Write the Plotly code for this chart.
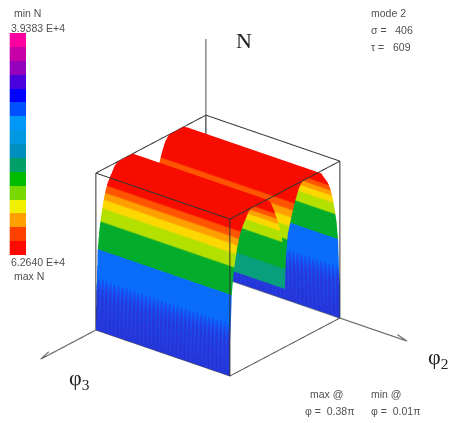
import plotly.graph_objects as go

# Value readings: arch profile across phi3 (fraction of the box), normalised N height
phi3_values = [0.00,0.004,0.010,0.0165,0.017,0.030,0.045,0.064,0.085,0.105,0.125,0.145,0.170,0.200,0.250,0.300,0.336,0.370,0.405,0.440,0.473,0.490,0.500,
               0.510,0.527,0.560,0.595,0.630,0.664,0.700,0.750,0.800,0.830,0.855,0.875,0.895,0.915,0.936,0.955,0.970,0.983,0.9835,0.990,0.996,1.00]
height_values = [0.00,0.20,0.36,0.505,0.51,0.62,0.70,0.785,0.85,0.895,0.925,0.95,0.985,1.00,1.00,1.00,1.00,0.97,0.90,0.81,0.71,0.58,0.37,
                 0.58,0.71,0.81,0.90,0.97,1.00,1.00,1.00,1.00,0.985,0.95,0.925,0.895,0.85,0.785,0.70,0.62,0.51,0.505,0.36,0.20,0.00]
phi2_values = [i / 68 for i in range(69)]
# Colour bands over the surface's colour value: (upper limit, colour)
band_tops = [-1.41, -1.0, -0.91, -0.75, 0.30, 0.51, 0.685, 0.765, 0.81, 0.85, 0.895, 1.01]
band_colors = ["#2030d0", "#2438dc", "#2840e4", "#1650f2", "#0a6cfa", "#08a07c", "#04ac2c", "#b4e000", "#fcd800", "#ffa000", "#ff5400", "#f80c00"]
legend_colors = ["#ff00a0","#c800a8","#9400bc","#4800dc","#0000ff","#0050ff","#0098f8","#0098e0","#0090c0","#00a068","#00bc00","#78d800","#f0f000","#ffa000","#ff4000","#ff0a00"]
CMIN, CMAX = -1.5, 1.01


def color_value(h, t, col_index):
    if 0.38 < t < 0.62 or h >= 0.51:
        return h
    if h < 0.25 and col_index % 2:
        return h - 1.5
    return h - 1


z = [height_values for _ in phi2_values]
col = [[color_value(h, t, j) for h, t in zip(height_values, phi3_values)] for j, _ in enumerate(phi2_values)]
scale = []
lo = CMIN
for top, c in zip(band_tops, band_colors):
    scale += [[(lo - CMIN) / (CMAX - CMIN), c], [(top - CMIN) / (CMAX - CMIN), c]]
    lo = top

fig = go.Figure()
fig.add_trace(go.Surface(x=phi3_values, y=phi2_values, z=z, surfacecolor=col, cmin=CMIN, cmax=CMAX,
    colorscale=scale, showscale=False, lighting=dict(ambient=1, diffuse=0, specular=0, fresnel=0, roughness=1), hoverinfo="skip"))

bx = [0,1,1,0,0,None,0,0,None,1,1,None,1,1,None,0,0]
by = [0,0,1,1,0,None,0,0,None,0,0,None,1,1,None,1,1]
bz = [1,1,1,1,1,None,0,1,None,0,1,None,0,1,None,0,1]
fig.add_trace(go.Scatter3d(x=bx, y=by, z=bz, mode="lines", line=dict(color="#333333", width=2), hoverinfo="skip", showlegend=False))
fig.add_trace(go.Scatter3d(x=[1,1,0],y=[0,1,1],z=[0,0,0], mode="lines", line=dict(color="#555555", width=2), hoverinfo="skip", showlegend=False))
ax = [0,1.5,1.43,1.5,1.43,None,0,0,0,0,0,None,0,0,-0.016,0,0.016]
ay = [0,0,0,0,0,None,0,1.5,1.43,1.5,1.43,None,0,0,0.02,0,-0.02]
az = [0,0,0.02,0,-0.02,None,0,0,0.02,0,-0.02,None,0,1.5,1.42,1.5,1.42]
fig.add_trace(go.Scatter3d(x=ax, y=ay, z=az, mode="lines", line=dict(color="#707070", width=2.5), hoverinfo="skip", showlegend=False))

fig.add_trace(go.Heatmap(z=[[i] for i in range(16)], x=[0], colorscale=[[min(1, k / 16 + d), c] for k, c in enumerate(legend_colors) for d in (0, 1 / 16)],
    zmin=-0.5, zmax=15.5, showscale=False, xaxis="x", yaxis="y", hoverinfo="skip"))

small = dict(family="Liberation Sans", size=10.5, color="#505050")
big = dict(family="Liberation Serif", size=22, color="#222222")
labels = [
    ("min N", 13, 13, small), ("3.9383 E+4", 10, 28, small), ("6.2640 E+4", 10, 262, small), ("max N", 13, 276, small),
    ("mode 2", 370, 13, small), ("σ =   406", 370, 30, small), ("τ =   609", 370, 47, small),
    ("max @", 309, 394, small), ("min @", 370, 394, small), ("φ =  0.38π", 304, 411, small), ("φ =  0.01π", 370, 411, small),
    ("N", 235, 40, big), ("φ<sub>3</sub>", 68, 379, big), ("φ<sub>2</sub>", 427, 358, big),
]
anns = [dict(text=t, x=px / 449, y=1 - py / 423, xref="paper", yref="paper", xanchor="left", yanchor="middle", showarrow=False, font=f, borderpad=0)
        for t, px, py, f in labels]

R = 1.55
K = 1.39
fig.update_layout(width=449, height=423, margin=dict(l=0, r=0, t=0, b=0), paper_bgcolor="white", showlegend=False, annotations=anns,
    xaxis=dict(domain=[9.5/449, 26/449], visible=False), yaxis=dict(domain=[168/423, 390/423], visible=False, autorange="reversed"),
    scene=dict(domain=dict(x=[0, 1], y=[0, 384/423]), aspectmode="manual", aspectratio=dict(x=1.017*K, y=K, z=1.007*K),
        xaxis=dict(visible=False, range=[0, R]), yaxis=dict(visible=False, range=[0, R]), zaxis=dict(visible=False, range=[0, R]),
        camera=dict(projection=dict(type="orthographic"), eye=dict(x=0.704*2, y=0.568*2, z=0.425*2), up=dict(x=0, y=0, z=1), center=dict(x=0, y=0, z=0))))
fig.write_html("out.html", config=dict(displayModeBar=False), post_script="document.body.style.margin='0';document.body.style.overflow='hidden';")
